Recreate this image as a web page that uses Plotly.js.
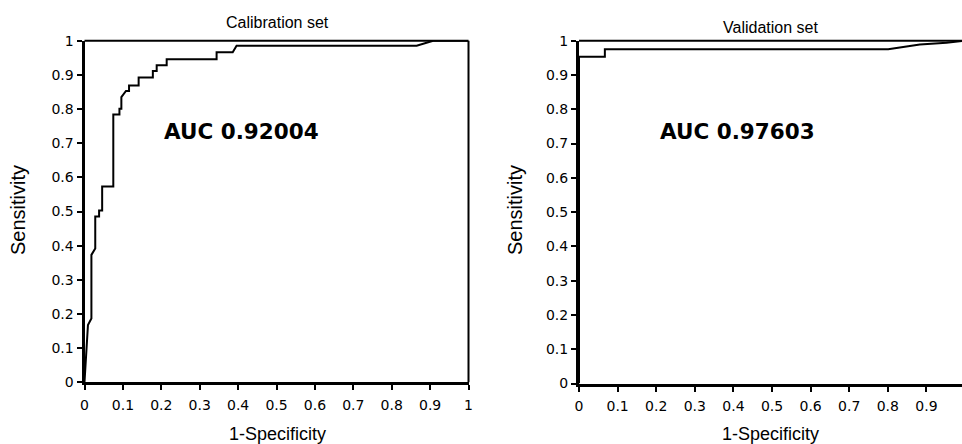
<!DOCTYPE html>
<html>
<head>
<meta charset="utf-8">
<script src="https://cdn.plot.ly/plotly-3.0.1.min.js"></script>
<style>html,body{margin:0;padding:0;background:#fff;}#chart{width:962px;height:444px;}</style>
</head>
<body>
<div id="chart"></div>
<script>
// Calibration set ROC curve (1-Specificity, Sensitivity)
const calX = [0, 0.009, 0.018, 0.018, 0.028, 0.028, 0.038, 0.038, 0.046, 0.046, 0.075, 0.075, 0.091, 0.091, 0.096, 0.096, 0.108, 0.116, 0.116, 0.141, 0.141, 0.178, 0.178, 0.188, 0.188, 0.214, 0.214, 0.344, 0.344, 0.386, 0.396, 0.865, 0.908, 1];
const calY = [0, 0.168, 0.187, 0.373, 0.392, 0.485, 0.485, 0.503, 0.503, 0.573, 0.573, 0.784, 0.784, 0.801, 0.801, 0.835, 0.853, 0.853, 0.869, 0.869, 0.892, 0.892, 0.911, 0.911, 0.928, 0.928, 0.946, 0.946, 0.966, 0.966, 0.985, 0.985, 1, 1];
// Validation set ROC curve
const valX = [0, 0, 0.067, 0.067, 0.801, 0.883, 0.952, 0.987, 1];
const valY = [0, 0.953, 0.953, 0.975, 0.975, 0.989, 0.994, 1, 1];
const tickVals = [0, 0.1, 0.2, 0.3, 0.4, 0.5, 0.6, 0.7, 0.8, 0.9, 1];
const tickText = ["0", "0.1", "0.2", "0.3", "0.4", "0.5", "0.6", "0.7", "0.8", "0.9", "1"];
const panelTitles = ["Calibration set", "Validation set"];
const aucLabels = ["AUC 0.92004", "AUC 0.97603"];

const W = 962, H = 444;
const px = v => v / W;
const py = v => 1 - v / H;
const WIDE = "DejaVu Sans, Liberation Sans, Arial, sans-serif";
const ARIAL = "Liberation Sans, Arial, Helvetica, sans-serif";

const lineStyle = {color: "#000", width: 2};
const traces = [
  {x: calX, y: calY, type: "scatter", mode: "lines", line: lineStyle, xaxis: "x", yaxis: "y", hoverinfo: "skip"},
  {x: valX, y: valY, type: "scatter", mode: "lines", line: lineStyle, xaxis: "x2", yaxis: "y2", hoverinfo: "skip"}
];

function axisBase(extra) {
  return Object.assign({
    showgrid: false, zeroline: false, showline: true, linecolor: "#000", linewidth: 3,
    ticks: "outside", ticklen: 5, tickwidth: 2, tickcolor: "#000",
    tickvals: tickVals, ticktext: tickText,
    tickfont: {family: WIDE, size: 14, color: "#000"},
    fixedrange: true
  }, extra);
}

const layout = {
  width: W, height: H,
  margin: {l: 0, r: 0, t: 0, b: 0},
  paper_bgcolor: "#fff", plot_bgcolor: "#fff",
  showlegend: false,
  xaxis: axisBase({domain: [px(84.5), px(468.5)], range: [0, 1], anchor: "y", ticklabelstandoff: 3}),
  yaxis: axisBase({domain: [1 - 382.3 / H, 1 - 40.7 / H], range: [0, 1], anchor: "x"}),
  xaxis2: axisBase({domain: [px(579), 1], range: [0, (962 - 579) / 386], anchor: "y2", ticklabelstandoff: 3}),
  yaxis2: axisBase({domain: [1 - 383.5 / H, 1 - 40.7 / H], range: [0, 1], anchor: "x2"}),
  shapes: [
    {type: "line", xref: "x domain", yref: "y domain", x0: 0, x1: 1, y0: 1, y1: 1, line: {color: "#000", width: 2}},
    {type: "line", xref: "x domain", yref: "y domain", x0: 1, x1: 1, y0: 0, y1: 1, line: {color: "#000", width: 2}},
    {type: "line", xref: "x2 domain", yref: "y2 domain", x0: 0, x1: 1, y0: 1, y1: 1, line: {color: "#000", width: 2}}
  ],
  annotations: [
    {text: panelTitles[0], xref: "paper", yref: "paper", x: px(277), y: py(22), xanchor: "center", yanchor: "middle", showarrow: false, font: {family: ARIAL, size: 16, color: "#000"}},
    {text: panelTitles[1], xref: "paper", yref: "paper", x: px(770), y: py(27), xanchor: "center", yanchor: "middle", showarrow: false, font: {family: ARIAL, size: 16, color: "#000"}},
    {text: "<b>" + aucLabels[0] + "</b>", xref: "paper", yref: "paper", x: px(162), y: py(131), xanchor: "left", yanchor: "middle", showarrow: false, font: {family: WIDE, size: 21.5, color: "#000"}},
    {text: "<b>" + aucLabels[1] + "</b>", xref: "paper", yref: "paper", x: px(658), y: py(131), xanchor: "left", yanchor: "middle", showarrow: false, font: {family: WIDE, size: 21.5, color: "#000"}},
    {text: "Sensitivity", xref: "paper", yref: "paper", x: px(18), y: py(210), xanchor: "center", yanchor: "middle", textangle: -90, showarrow: false, font: {family: ARIAL, size: 20, color: "#000"}},
    {text: "Sensitivity", xref: "paper", yref: "paper", x: px(515), y: py(210), xanchor: "center", yanchor: "middle", textangle: -90, showarrow: false, font: {family: ARIAL, size: 20, color: "#000"}},
    {text: "1-Specificity", xref: "paper", yref: "paper", x: px(277), y: py(434), xanchor: "center", yanchor: "middle", showarrow: false, font: {family: ARIAL, size: 18, color: "#000"}},
    {text: "1-Specificity", xref: "paper", yref: "paper", x: px(770), y: py(434), xanchor: "center", yanchor: "middle", showarrow: false, font: {family: ARIAL, size: 18, color: "#000"}}
  ]
};

Plotly.newPlot("chart", traces, layout, {displayModeBar: false, staticPlot: true});
</script>
</body>
</html>
